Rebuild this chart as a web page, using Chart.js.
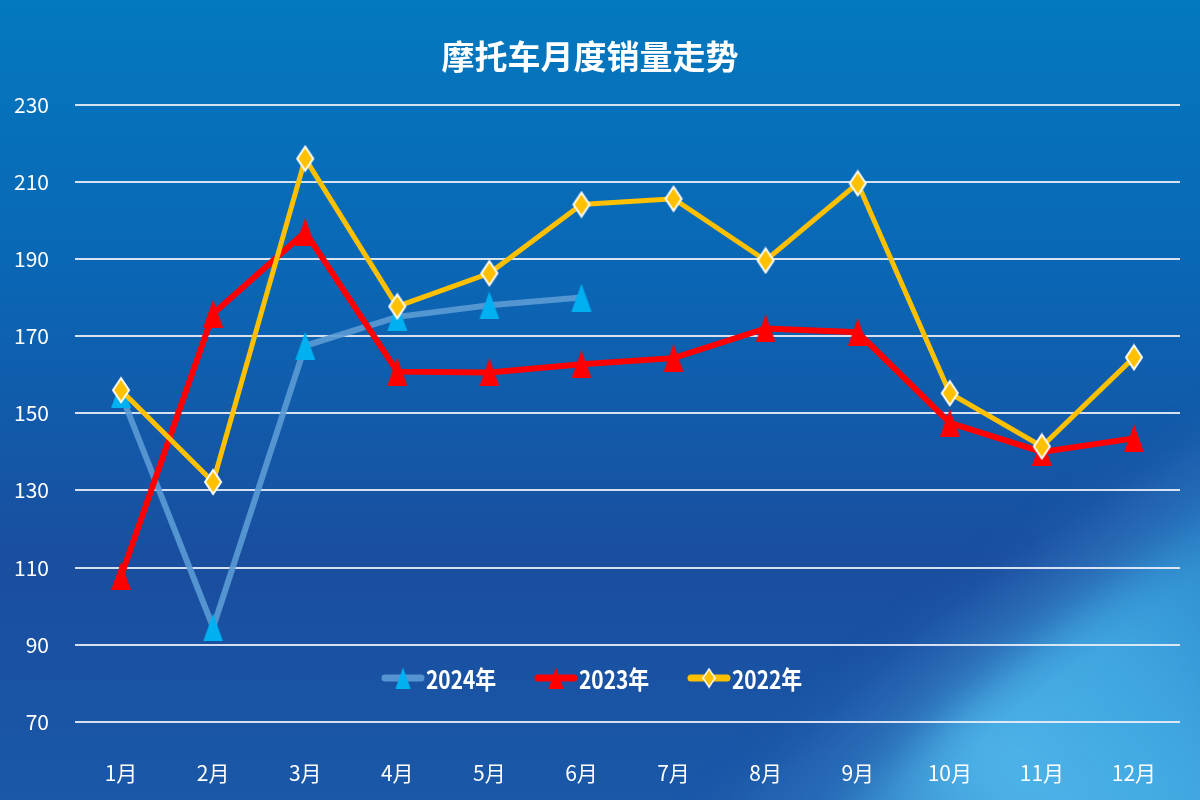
<!DOCTYPE html>
<html>
<head>
<meta charset="utf-8">
<script src="https://cdn.jsdelivr.net/npm/chart.js@4"></script>
<style>
    html, body { margin: 0; padding: 0; background: #0a5aa8; }
    #wrap { width: 1200px; height: 800px; }
</style>
</head>
<body>
<div id="wrap"><canvas id="chart" width="1200" height="800"></canvas></div>
<script>
const months = ['1月', '2月', '3月', '4月', '5月', '6月', '7月', '8月', '9月', '10月', '11月', '12月']
const sales2024 = [155, 94.5, 167.5, 175, 178, 180]
const sales2023 = [107.8, 175.8, 197, 160.8, 160.6, 162.7, 164.3, 172, 171, 147.5, 140, 143.5]
const sales2022 = [156, 132.2, 216, 177.7, 186.3, 204.1, 205.6, 189.6, 209.6, 155.2, 141.4, 164.5]
const yTicks = [70, 90, 110, 130, 150, 170, 190, 210, 230]

const FONT = '"Liberation Sans Narrow", "Noto Sans CJK SC", sans-serif'

// marker images (narrow triangle / tall diamond like the original)
function makeTriangle(color) {
    const c = document.createElement('canvas')
    c.width = 22
    c.height = 28
    const g = c.getContext('2d')
    g.fillStyle = color
    g.beginPath()
    g.moveTo(11, 0)
    g.lineTo(21, 28)
    g.lineTo(1, 28)
    g.closePath()
    g.fill()
    return c
}

function makeDiamond(color) {
    const c = document.createElement('canvas')
    c.width = 20
    c.height = 28
    const g = c.getContext('2d')
    g.fillStyle = color
    g.strokeStyle = '#ffffff'
    g.lineWidth = 2
    g.beginPath()
    g.moveTo(10, 2)
    g.lineTo(18, 14)
    g.lineTo(10, 26)
    g.lineTo(2, 14)
    g.closePath()
    g.fill()
    g.stroke()
    return c
}

const tri2024 = makeTriangle('#00B0F0')
const tri2023 = makeTriangle('#FF0000')
const dia2022 = makeDiamond('#FFC000')

const bgPlugin = {
    id: 'bg',
    beforeDraw: function (chart) {
        const ctx = chart.ctx
        const w = chart.width
        const h = chart.height
        ctx.save()
        const lin = ctx.createLinearGradient(0, 0, 0, h)
        lin.addColorStop(0, '#0379BF')
        lin.addColorStop(0.35, '#0A66B4')
        lin.addColorStop(0.7, '#1A4E9F')
        lin.addColorStop(1, '#1A58A8')
        ctx.fillStyle = lin
        ctx.fillRect(0, 0, w, h)

        // light swoosh bottom right
        ctx.save()
        ctx.filter = 'blur(30px)'
        ctx.beginPath()
        ctx.moveTo(w + 60, 470)
        ctx.bezierCurveTo(1120, 560, 960, 680, 780, h + 60)
        ctx.lineTo(w + 60, h + 60)
        ctx.closePath()
        const sw = ctx.createLinearGradient(800, 820, 1220, 520)
        sw.addColorStop(0, 'rgba(70,165,225,0.55)')
        sw.addColorStop(0.35, 'rgba(85,190,240,0.9)')
        sw.addColorStop(0.7, 'rgba(70,180,235,0.85)')
        sw.addColorStop(1, 'rgba(55,165,225,0.7)')
        ctx.fillStyle = sw
        ctx.fill()
        ctx.restore()

        // soft band above the swoosh
        ctx.save()
        ctx.filter = 'blur(22px)'
        ctx.beginPath()
        ctx.moveTo(w + 40, 420)
        ctx.bezierCurveTo(1080, 520, 900, 640, 700, h + 40)
        ctx.lineTo(780, h + 40)
        ctx.bezierCurveTo(960, 680, 1120, 560, w + 40, 470)
        ctx.closePath()
        ctx.fillStyle = 'rgba(60,130,200,0.35)'
        ctx.fill()
        ctx.restore()
        ctx.restore()
    }
}

const legendPlugin = {
    id: 'lineLegend',
    afterDraw: function (chart) {
        const ctx = chart.ctx
        const items = [
            { text: '2024年', line: 'rgba(91,155,213,0.9)', img: tri2024, x: 382 },
            { text: '2023年', line: '#FF0000', img: tri2023, x: 535 },
            { text: '2022年', line: '#FFC000', img: dia2022, x: 688 }
        ]
        const y = chart.chartArea.bottom - 44
        ctx.save()
        ctx.font = 'bold 24px ' + FONT
        ctx.textBaseline = 'middle'
        ctx.fillStyle = '#ffffff'
        items.forEach(function (it) {
            ctx.strokeStyle = it.line
            ctx.lineWidth = 7
            ctx.lineCap = 'round'
            ctx.beginPath()
            ctx.moveTo(it.x + 3, y)
            ctx.lineTo(it.x + 39, y)
            ctx.stroke()
            const iw = it.img.width * 0.75
            const ih = it.img.height * 0.75
            ctx.drawImage(it.img, it.x + 21 - iw / 2, y - ih / 2, iw, ih)
            // slightly condensed text, as in the original
            ctx.save()
            ctx.translate(it.x + 44, y + 1)
            ctx.scale(0.87, 1.05)
            ctx.fillText(it.text, 0, 0)
            ctx.restore()
        })
        ctx.restore()
    }
}

function lineSet(label, data, color, width, img, order) {
    return {
        label: label,
        data: data,
        borderColor: color,
        backgroundColor: color,
        borderWidth: width,
        pointStyle: img,
        pointRadius: 10,
        pointHoverRadius: 10,
        tension: 0,
        fill: false,
        order: order
    }
}

new Chart(document.getElementById('chart'), {
    type: 'line',
    data: {
        labels: months,
        datasets: [
            lineSet('2024年', sales2024, 'rgba(91,155,213,0.9)', 6, tri2024, 3),
            lineSet('2023年', sales2023, '#FF0000', 6, tri2023, 2),
            lineSet('2022年', sales2022, '#FFC000', 5, dia2022, 1)
        ]
    },
    options: {
        responsive: false,
        animation: false,
        layout: { padding: { left: 0, right: 20, top: 0, bottom: 0 } },
        plugins: {
            legend: { display: false },
            tooltip: { enabled: false },
            title: {
                display: true,
                text: '摩托车月度销量走势',
                color: '#ffffff',
                font: { family: FONT, size: 33, weight: 'bold' },
                padding: { top: 37, bottom: 28 }
            }
        },
        scales: {
            x: {
                offset: true,
                border: { display: false },
                grid: { display: false },
                ticks: {
                    color: '#ffffff',
                    font: { family: FONT, size: 21 },
                    padding: 30,
                    maxRotation: 0
                },
                afterFit: function (axis) { axis.height = 78 }
            },
            y: {
                min: 70,
                max: 230,
                border: { display: false },
                grid: {
                    color: 'rgba(235,240,248,0.9)',
                    lineWidth: 2,
                    drawTicks: false
                },
                afterBuildTicks: function (axis) {
                    axis.ticks = yTicks.map(function (v) { return { value: v } })
                },
                ticks: {
                    color: '#ffffff',
                    font: { family: FONT, size: 21 },
                    padding: 26
                },
                afterFit: function (axis) { axis.width = 75 }
            }
        }
    },
    plugins: [bgPlugin, legendPlugin]
})
</script>
</body>
</html>
